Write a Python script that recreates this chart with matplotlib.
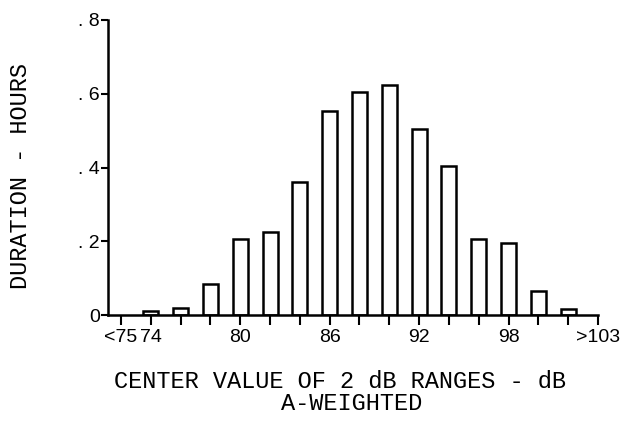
import matplotlib
matplotlib.use("Agg")
import matplotlib.pyplot as plt
import numpy as np

# Data
tick_labels = ["<75", "74", "", "", "80", "", "", "86", "", "", "92", "", "", "98", "", "", ">103"]
bar_bins = ["74", "76", "78", "80", "82", "84", "86", "88", "90", "92", "94", "96", "98", "100", "102"]
durations = [0.012, 0.02, 0.083, 0.205, 0.225, 0.36, 0.553, 0.605, 0.625, 0.505,
             0.405, 0.205, 0.195, 0.065, 0.015]
y_ticks = [0, 0.2, 0.4, 0.6, 0.8]
y_tick_labels = ["0", ". 2", ". 4", ". 6", ". 8"]

W, H = 624, 425
fig = plt.figure(figsize=(W / 100, H / 100), dpi=100)
ax = fig.add_axes([108 / W, 1 - 315 / H, 490 / W, 295 / H])

tick_pos = np.arange(len(tick_labels))
bar_pos = tick_pos[1:1 + len(bar_bins)]
ax.bar(bar_pos, durations, width=0.5, facecolor="white", edgecolor="black", linewidth=1.8)

sans = ["Liberation Sans", "DejaVu Sans"]
ax.set_xlim(-0.436, 16)
ax.set_ylim(0, 0.8)
ax.set_xticks(tick_pos)
ax.set_xticklabels(tick_labels, fontfamily=sans, fontsize=14)
ax.set_yticks(y_ticks)
ax.set_yticklabels(y_tick_labels, fontfamily=sans, fontsize=14)
ax.tick_params(axis="x", direction="out", length=7, width=1.5, pad=3)
ax.tick_params(axis="y", direction="out", length=5, width=1.5, pad=1)
labels = ax.get_xticklabels()
labels[0].set_x(-0.15)
labels[0].set_horizontalalignment("center")

for s in ["top", "right"]:
    ax.spines[s].set_visible(False)
for s in ["left", "bottom"]:
    ax.spines[s].set_linewidth(1.8)

mono = "Liberation Mono"
fig.text(21 / W, 1 - 176 / H, "DURATION - HOURS", rotation=90, ha="center", va="center",
         fontfamily=mono, fontsize=17)
fig.text(340 / W, 1 - 382 / H, "CENTER VALUE OF 2 dB RANGES - dB", ha="center", va="center",
         fontfamily=mono, fontsize=17)
fig.text(352 / W, 1 - 404 / H, "A-WEIGHTED", ha="center", va="center",
         fontfamily=mono, fontsize=17)

fig.savefig("out.png", dpi=100)
